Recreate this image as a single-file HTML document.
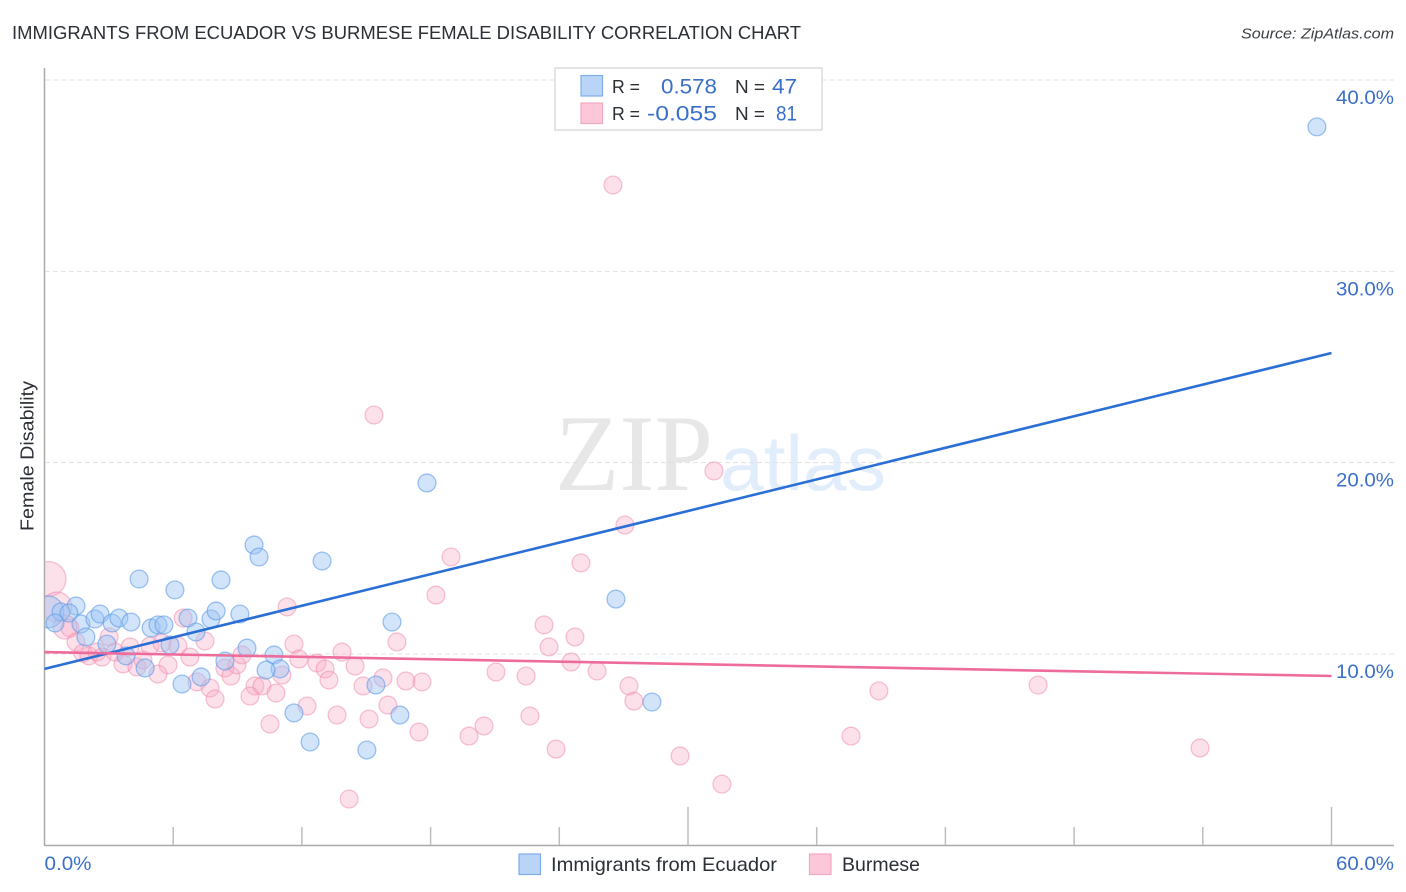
<!DOCTYPE html>
<html lang="en">
<head>
<meta charset="utf-8">
<title>Immigrants from Ecuador vs Burmese Female Disability Correlation Chart</title>
<style>
html,body{margin:0;padding:0;background:#fff;width:1406px;height:892px;overflow:hidden}
svg{display:block;font-family:"Liberation Sans",sans-serif}
</style>
</head>
<body>
<svg id="chart" width="1406" height="892" viewBox="0 0 1406 892" xmlns="http://www.w3.org/2000/svg">
  <defs><clipPath id="plot-clip"><rect x="45" y="60" width="1350" height="785"/></clipPath></defs>
  <text x="12" y="39" font-size="18.5" fill="#2b2f36" textLength="789" lengthAdjust="spacingAndGlyphs">IMMIGRANTS FROM ECUADOR VS BURMESE FEMALE DISABILITY CORRELATION CHART</text>
  <text x="1241" y="38.5" font-size="15" font-style="italic" fill="#3c4046" textLength="153" lengthAdjust="spacingAndGlyphs">Source: ZipAtlas.com</text>
  <g>
    <text x="555" y="490" font-family="'Liberation Serif',serif" font-size="109" fill="#e7e7e7" textLength="158" lengthAdjust="spacingAndGlyphs">ZIP</text>
    <text x="720" y="490" font-size="78" fill="#e2edfb" textLength="166" lengthAdjust="spacingAndGlyphs">atlas</text>
  </g>
  <g id="grid"></g>
  <g id="axes"></g>
  <g id="pink-points" clip-path="url(#plot-clip)"></g>
  <g id="blue-points" clip-path="url(#plot-clip)"></g>
  <g id="trends"></g>
  <text transform="translate(33.5,531) rotate(-90)" font-size="18" fill="#2b2f36" textLength="150" lengthAdjust="spacingAndGlyphs">Female Disability</text>
  <g>
    <rect x="555" y="68" width="267" height="62" fill="#fff" stroke="#dcdcdc" stroke-width="1.5"/>
    <rect x="581" y="75.5" width="21.5" height="20.5" fill="#b9d4f7" stroke="#7fadea" stroke-width="1.2"/>
    <rect x="581" y="103" width="21.5" height="20.5" fill="#fcc8d9" stroke="#f1a9c0" stroke-width="1.2"/>
    <text x="612" y="93" font-size="18.5" fill="#2b2f36" textLength="28" lengthAdjust="spacingAndGlyphs">R =</text>
    <text x="612" y="120" font-size="18.5" fill="#2b2f36" textLength="28" lengthAdjust="spacingAndGlyphs">R =</text>
    <text x="661" y="93.5" font-size="21.5" fill="#3a6fc9" textLength="56" lengthAdjust="spacingAndGlyphs">0.578</text>
    <text x="647" y="120.5" font-size="21.5" fill="#3a6fc9" textLength="70" lengthAdjust="spacingAndGlyphs">-0.055</text>
    <text x="735" y="93" font-size="18.5" fill="#2b2f36" textLength="30" lengthAdjust="spacingAndGlyphs">N =</text>
    <text x="735" y="120" font-size="18.5" fill="#2b2f36" textLength="30" lengthAdjust="spacingAndGlyphs">N =</text>
    <text x="772" y="93.5" font-size="21.5" fill="#3a6fc9" textLength="25" lengthAdjust="spacingAndGlyphs">47</text>
    <text x="776" y="120.5" font-size="21.5" fill="#3a6fc9" textLength="21" lengthAdjust="spacingAndGlyphs">81</text>
  </g>
  <g>
    <rect x="519" y="854" width="21.5" height="20.5" fill="#b9d4f7" stroke="#7fadea" stroke-width="1.2"/>
    <text x="551" y="871" font-size="19.5" fill="#2b2f36" textLength="226" lengthAdjust="spacingAndGlyphs">Immigrants from Ecuador</text>
    <rect x="809.5" y="854" width="21.5" height="20.5" fill="#fcc8d9" stroke="#f1a9c0" stroke-width="1.2"/>
    <text x="842" y="871" font-size="19.5" fill="#2b2f36" textLength="78" lengthAdjust="spacingAndGlyphs">Burmese</text>
  </g>
</svg>
<script>
const yTicks = [10, 20, 30, 40];
const yTickLabels = ["10.0%", "20.0%", "30.0%", "40.0%"];
const xTicks = [0, 6, 12, 18, 24, 30, 36, 42, 48, 54, 60];
const xMajorTicks = [30, 60];
const xEndTicks = [0, 60];
const xEndLabels = ["0.0%", "60.0%"];

const ecuadorX = [0.16,59.32,17.83,9.77,10.00,12.94,4.41,6.08,8.23,26.64,1.47,0.77,1.14,0.49,1.70,2.35,2.59,3.15,3.47,4.03,4.97,5.29,5.57,6.69,7.06,7.76,8.00,9.11,1.93,2.91,5.85,9.44,3.80,8.41,10.70,10.98,10.33,4.69,7.30,6.41,11.63,12.38,16.20,15.45,28.32,16.57,15.03];
const ecuadorY = [12.20,37.55,18.94,15.70,15.07,14.86,13.92,13.35,13.87,12.87,12.51,12.20,12.14,11.62,11.57,11.83,12.09,11.62,11.88,11.67,11.36,11.52,11.52,11.88,11.15,11.83,12.25,12.09,10.89,10.52,10.47,10.31,9.90,9.63,9.95,9.22,9.16,9.27,8.80,8.43,6.92,5.40,11.67,8.38,7.49,6.81,4.98];
const ecuadorWeight = [3.2];

const burmeseX = [0.19,0.58,0.96,1.19,1.47,1.79,2.07,2.45,2.68,3.01,3.29,3.99,3.66,4.31,4.59,4.92,5.48,6.22,5.76,5.29,6.46,6.78,7.48,7.11,7.72,7.95,8.41,8.69,8.97,9.21,9.81,10.14,9.58,10.79,11.07,11.31,11.63,11.86,12.70,13.08,13.26,13.87,14.48,12.24,13.64,10.51,18.95,25.01,18.25,23.29,24.73,23.52,16.43,24.55,25.76,21.05,22.45,15.78,14.85,16.85,17.60,27.25,27.48,16.01,15.13,22.63,17.46,20.49,19.79,23.85,29.63,14.20,15.36,31.21,27.06,26.50,31.58,38.90,37.60,46.32,53.87];
const burmeseY = [13.92,12.46,11.41,11.36,10.63,10.05,9.90,10.10,9.84,10.89,10.10,10.37,9.48,9.32,9.69,10.42,10.57,10.42,9.43,8.95,11.88,9.84,10.68,8.54,8.22,7.65,9.27,8.85,9.43,9.95,8.33,8.33,7.80,7.96,8.90,12.46,10.52,9.74,9.53,9.22,8.64,10.10,9.37,7.28,6.81,6.34,15.07,14.76,13.08,11.52,10.89,10.37,10.63,9.58,9.11,9.06,8.85,8.75,8.33,8.59,8.54,8.33,7.54,7.33,6.60,6.76,5.92,6.24,5.71,5.03,4.67,2.42,22.49,19.57,16.74,34.51,3.20,8.07,5.71,8.38,5.09];
const burmeseWeight = [3.8, 2.8, 1.8];

const trendX = [0, 60];
const ecuadorTrend = [9.22, 25.73];
const burmeseTrend = [10.10, 8.85];

const NS = "http://www.w3.org/2000/svg";
function xScale(v) { return 44.5 + v * 21.45; }
function yScale(v) { return 654 - (v - 10) * 19.133; }
function radius(w) { return 8.9 * Math.sqrt(w); }
function make(tag, parentId, attrs, text) {
  const el = document.createElementNS(NS, tag);
  Object.keys(attrs).forEach(function (k) { el.setAttribute(k, attrs[k]); });
  if (text !== undefined) el.textContent = text;
  document.getElementById(parentId).appendChild(el);
  return el;
}

yTicks.forEach(function (t, i) {
  const g = make("line", "grid", { x1: 45, x2: 1394, y1: yScale(t), y2: yScale(t), stroke: "#e0e0e0", "stroke-width": 1, "stroke-dasharray": "5 3" });
  
  
  const lab = make("text", "axes", { x: 1394, y: yScale(t) + 24, "font-size": 19.5, fill: "#3a6fc9", "text-anchor": "end", textLength: 58, lengthAdjust: "spacingAndGlyphs" }, yTickLabels[i]);
  
  
});

const yAxis = make("line", "axes", { x1: 44.5, x2: 44.5, y1: 68, y2: 845.5, stroke: "#aaaaaa", "stroke-width": 1.5 });


const xAxis = make("line", "axes", { x1: 44, x2: 1394, y1: 845.5, y2: 845.5, stroke: "#aaaaaa", "stroke-width": 1.5 });



xTicks.forEach(function (t) {
  if (t === 0) return;
  const top = xMajorTicks.indexOf(t) >= 0 ? 807 : 827;
  const tick = make("line", "axes", { x1: xScale(t), x2: xScale(t), y1: top, y2: 845, stroke: "#bdbdbd", "stroke-width": 1.5 });
  
  
});

xEndTicks.forEach(function (t, i) {
  const attrs = i === 0
    ? { x: xScale(t), y: 870, "font-size": 19.5, fill: "#3a6fc9", textLength: 47, lengthAdjust: "spacingAndGlyphs" }
    : { x: 1394, y: 870, "font-size": 19.5, fill: "#3a6fc9", "text-anchor": "end", textLength: 58, lengthAdjust: "spacingAndGlyphs" };
  const lab = make("text", "axes", attrs, xEndLabels[i]);
  
  
});

burmeseX.forEach(function (v, i) {
  const c = make("circle", "pink-points", { cx: xScale(v), cy: yScale(burmeseY[i]), r: radius(burmeseWeight[i] || 1), fill: "#f9a8c3", "fill-opacity": 0.35, stroke: "#ee8fb0", "stroke-opacity": 0.55, "stroke-width": 1.3 });
  
  
});

ecuadorX.forEach(function (v, i) {
  const c = make("circle", "blue-points", { cx: xScale(v), cy: yScale(ecuadorY[i]), r: radius(ecuadorWeight[i] || 1), fill: "#9cc3f3", "fill-opacity": 0.45, stroke: "#5f9be6", "stroke-opacity": 0.6, "stroke-width": 1.3 });
  
  
});

const blueLine = make("line", "trends", { x1: xScale(trendX[0]), x2: xScale(trendX[1]), y1: yScale(ecuadorTrend[0]), y2: yScale(ecuadorTrend[1]), stroke: "#2a6fd6", "stroke-width": 2.6 });


const pinkLine = make("line", "trends", { x1: xScale(trendX[0]), x2: xScale(trendX[1]), y1: yScale(burmeseTrend[0]), y2: yScale(burmeseTrend[1]), stroke: "#ee6c9b", "stroke-width": 2.6 });


</script>
</body>
</html>
